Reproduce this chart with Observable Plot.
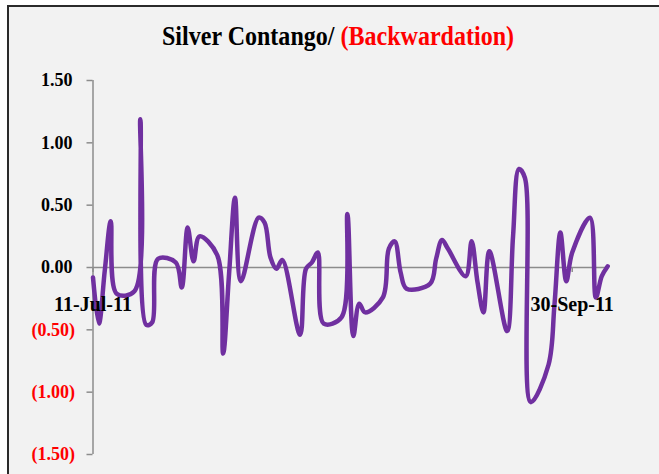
<!DOCTYPE html>
<html>
<head>
<meta charset="utf-8">
<script src="https://cdn.jsdelivr.net/npm/d3@7"></script>
<script src="https://cdn.jsdelivr.net/npm/@observablehq/plot@0.6"></script>
<style>
  html, body { margin: 0; padding: 0; background: #ffffff; }
  #wrap { position: relative; width: 659px; height: 474px; overflow: hidden; }
  #box { position: absolute; left: 7px; top: 5px; width: 720px; height: 540px; border: 2px solid #2a2a2a; background: #f2f2f2; }
  #title { position: absolute; left: 0; top: 23px; width: 676px; text-align: center; line-height: 27px;
           font-family: "Liberation Serif", serif; font-weight: bold; font-size: 27px; color: #000; white-space: nowrap;
           transform: scaleX(0.89); transform-origin: 338px 0; }
  #title .neg { color: #ff0000; }
  #chart { position: absolute; left: 0; top: 0; }
</style>
</head>
<body>
<div id="wrap">
  <div id="box"></div>
  <div id="title">Silver Contango/ <span class="neg">(Backwardation)</span></div>
  <div id="chart"></div>
</div>
<script>
// Trading dates (2011) and contango/backwardation values
const dates = [
  "2011-07-11","2011-07-12","2011-07-13","2011-07-14","2011-07-15",
  "2011-07-18","2011-07-19","2011-07-20","2011-07-21","2011-07-22",
  "2011-07-25","2011-07-26","2011-07-27","2011-07-28","2011-07-29",
  "2011-08-01","2011-08-02","2011-08-03","2011-08-04","2011-08-05",
  "2011-08-08","2011-08-09","2011-08-10","2011-08-11","2011-08-12",
  "2011-08-15","2011-08-16","2011-08-17","2011-08-18","2011-08-19",
  "2011-08-22","2011-08-23","2011-08-24","2011-08-25","2011-08-26",
  "2011-08-29","2011-08-30","2011-08-31","2011-09-01","2011-09-02",
  "2011-09-06","2011-09-07","2011-09-08","2011-09-09",
  "2011-09-12","2011-09-13","2011-09-14","2011-09-15","2011-09-16",
  "2011-09-19","2011-09-20","2011-09-21","2011-09-22","2011-09-23",
  "2011-09-26","2011-09-27","2011-09-28","2011-09-29","2011-09-30",
  "2011-10-03","2011-10-04","2011-10-05","2011-10-06"
];
const values = [
  -0.08, -0.45, -0.02, 0.37, -0.21,
  -0.19, 1.19, -0.46, -0.44, 0.07,
  0.04, -0.16, 0.32, 0.05, 0.25,
  0.10, -0.69, -0.05, 0.56, -0.11,
  0.40, 0.36, 0.08, -0.01, 0.06,
  -0.54, -0.01, 0.04, 0.12, -0.45,
  -0.40, 0.43, -0.55, -0.29, -0.36,
  -0.24, 0.15, 0.21, -0.04, -0.17,
  -0.13, 0.07, 0.22, 0.15,
  -0.07, 0.21, -0.12, -0.36, 0.13,
  -0.51, 0.25, 0.79, 0.72, -1.08,
  -0.78, -0.30, 0.28, -0.11, 0.12,
  0.40, -0.24, -0.07, 0.01
];
const yTicksPos = [0, 0.5, 1.0, 1.5];
const yTicksNeg = [-0.5, -1.0, -1.5];
const xTickDates = ["2011-07-11", "2011-09-30"];
const xTickLabels = ["11-Jul-11", "30-Sep-11"];

const parse = d3.utcParse("%Y-%m-%d");
const data = dates.map((d, i) => ({date: parse(d), value: values[i]}));
const xTicks = xTickDates.map((d, i) => ({date: parse(d), label: xTickLabels[i]}));
const domainX = [data[0].date, data[data.length - 1].date];

const fmtPos = v => v.toFixed(2) + "\u200A";
const fmtNeg = v => "(" + Math.abs(v).toFixed(2) + ")";

const axisColor = "#8c8c8c";
const plot = Plot.plot({
  width: 659,
  height: 474,
  marginLeft: 92.5,
  marginRight: 51.8,
  marginTop: 80,
  marginBottom: 20,
  style: {background: "transparent", fontFamily: "Liberation Serif, serif", fontWeight: "bold", fontSize: "18px", color: "#000"},
  x: {type: "utc", domain: domainX, axis: null},
  y: {domain: [-1.5, 1.5], axis: null},
  marks: [
    Plot.ruleX([domainX[0]], {y1: -1.5, y2: 1.5, stroke: axisColor, strokeWidth: 1.5}),
    Plot.ruleY([0], {stroke: axisColor, strokeWidth: 1.5}),
    Plot.ruleX(xTicks, {x: "date", y1: () => 0, y2: () => 0, insetBottom: -5, stroke: axisColor, strokeWidth: 1.5}),
    Plot.axisY({ticks: yTicksPos, tickFormat: fmtPos, tickSize: 6, tickPadding: 13, stroke: axisColor, fill: "#000", strokeWidth: 1.5, label: null}),
    Plot.axisY({ticks: yTicksNeg, tickFormat: fmtNeg, tickSize: 6, tickPadding: 12, stroke: axisColor, fill: "#ff0000", strokeWidth: 1.5, label: null}),
    Plot.line(data, {x: "date", y: "value", stroke: "#7030a0", strokeWidth: 4.5, curve: "catmull-rom"}),
    Plot.text(xTicks, {x: "date", y: () => 0, text: "label", dy: 37, fill: "#000", fontSize: 20, fontWeight: "bold"})
  ]
});
document.getElementById("chart").appendChild(plot);
</script>
</body>
</html>
